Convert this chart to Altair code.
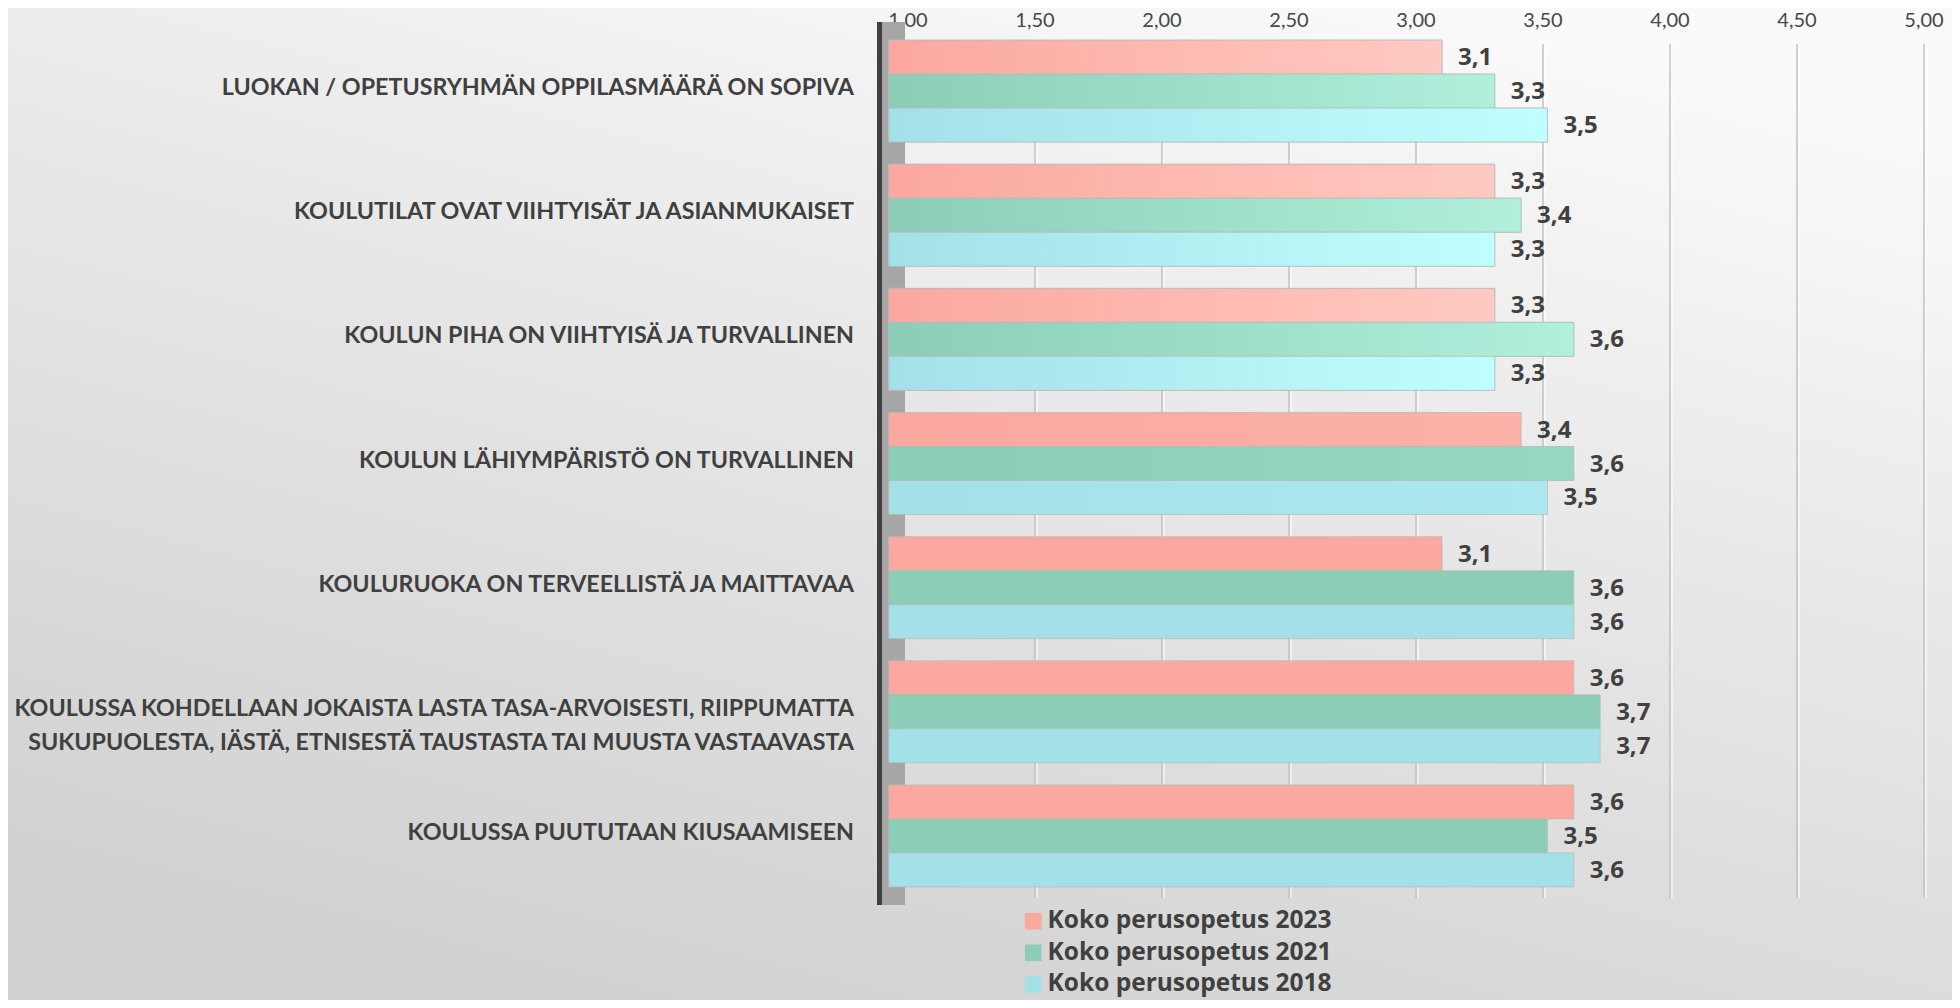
import altair as alt
import pandas as pd

categories = [
    "LUOKAN / OPETUSRYHMÄN OPPILASMÄÄRÄ ON SOPIVA",
    "KOULUTILAT OVAT VIIHTYISÄT JA ASIANMUKAISET",
    "KOULUN PIHA ON VIIHTYISÄ JA TURVALLINEN",
    "KOULUN LÄHIYMPÄRISTÖ ON TURVALLINEN",
    "KOULURUOKA ON TERVEELLISTÄ JA MAITTAVAA",
    "KOULUSSA KOHDELLAAN JOKAISTA LASTA TASA-ARVOISESTI, RIIPPUMATTA\nSUKUPUOLESTA, IÄSTÄ, ETNISESTÄ TAUSTASTA TAI MUUSTA VASTAAVASTA",
    "KOULUSSA PUUTUTAAN KIUSAAMISEEN",
]
series = ["Koko perusopetus 2023", "Koko perusopetus 2021", "Koko perusopetus 2018"]
v2023 = [3.1, 3.3, 3.3, 3.4, 3.1, 3.6, 3.6]
v2021 = [3.3, 3.4, 3.6, 3.6, 3.6, 3.7, 3.5]
v2018 = [3.5, 3.3, 3.3, 3.5, 3.6, 3.7, 3.6]
tick_values = [1.0, 1.5, 2.0, 2.5, 3.0, 3.5, 4.0, 4.5, 5.0]
colors = ["#fba89f", "#8bcdb6", "#a4e0e8"]
light_colors = ["#ffcac2", "#b0f0dc", "#c0ffff"]

FONT = "Lato"
FONT2 = "Open Sans"
TXT = "#404040"
W, H = 1016, 869
PAD = {"left": 900, "top": 21, "right": 28, "bottom": 102}

rows = []
for gi, cat in enumerate(categories):
    for s, vals in zip(series, [v2023, v2021, v2018]):
        rows.append({"cat": cat, "gi": gi, "series": s, "value": vals[gi]})
df = pd.DataFrame(rows)
ticks_df = pd.DataFrame({"t": tick_values})
one = pd.DataFrame({"a": [0]})

bar_x = alt.Scale(domain=[1.07325, 4.92903], nice=False, zero=False)
grid_x = alt.Scale(domain=[1, 5], nice=False, zero=False)
yscale = alt.Scale(paddingInner=0.179, paddingOuter=0.0895)
Y = alt.Y("cat:N", sort=categories, scale=yscale, axis=None)
YO = alt.YOffset("series:N", sort=series)

bg = alt.Chart(one).mark_rect(
    fill=alt.Gradient(
        gradient="linear", x1=0.75, y1=0, x2=0.25, y2=1,
        stops=[alt.GradientStop(color="#fafafa", offset=0),
               alt.GradientStop(color="#e6e6e6", offset=0.45),
               alt.GradientStop(color="#d0d0d0", offset=1)],
    )
).encode(x=alt.value(-PAD["left"]), x2=alt.value(W + PAD["right"]),
         y=alt.value(-PAD["top"]), y2=alt.value(H + PAD["bottom"]))

wall = alt.Chart(one).mark_rect(color="#a6a6a6").encode(
    x=alt.value(-26), x2=alt.value(-3), y=alt.value(-7), y2=alt.value(876))
wall_edge = alt.Chart(one).mark_rect(color="#404040").encode(
    x=alt.value(-31), x2=alt.value(-26), y=alt.value(-7), y2=alt.value(876))

grid = alt.Chart(ticks_df).transform_filter("datum.t > 1").mark_rule(
    color="#c2c2c2", strokeWidth=1.5).encode(
    x=alt.X("t:Q", scale=grid_x, axis=None), y=alt.value(15), y2=alt.value(869))
grid_hi = alt.Chart(ticks_df).transform_filter("datum.t > 1").mark_rule(
    color="#ffffff", strokeWidth=1.5, opacity=0.7, xOffset=2).encode(
    x=alt.X("t:Q", scale=grid_x, axis=None), y=alt.value(15), y2=alt.value(869))

tick_labels = alt.Chart(ticks_df).transform_calculate(
    lab="replace(format(datum.t, '.2f'), '.', ',')").mark_text(
    font=FONT, fontSize=20, color="#474747", baseline="top", align="center").encode(
    x=alt.X("t:Q", scale=grid_x, axis=None), y=alt.value(-18), text="lab:N")

bars = alt.Chart(df).mark_bar(stroke="#b8b8b8", strokeWidth=0.7).encode(
    x=alt.X("value:Q", scale=bar_x, axis=None),
    x2=alt.datum(1.0),
    y=Y, yOffset=YO,
    color=alt.Color("series:N", sort=series,
                    scale=alt.Scale(domain=series, range=colors),
                    legend=alt.Legend(
                        title=None, orient="none", legendX=113, legendY=880,
                        symbolType="square", symbolSize=275, symbolStrokeWidth=0,
                        labelFont=FONT2, labelFontSize=24.5, labelFontWeight="bold",
                        labelColor=TXT, labelOffset=2, rowPadding=6.5, padding=0,
                        labelLimit=600)),
)

overlays = []
for s, c0, c1 in zip(series, colors, light_colors):
    overlays.append(
        alt.Chart(df).transform_filter(alt.datum.series == s).transform_filter(
            "datum.gi < 4").transform_calculate(
            glow="datum.gi < 3 ? 1 : 0.3").mark_bar(
            stroke="#b8b8b8", strokeWidth=0.7,
            fill=alt.Gradient(gradient="linear", x1=0, y1=0, x2=1, y2=0,
                              stops=[alt.GradientStop(color=c0, offset=0),
                                     alt.GradientStop(color=c1, offset=1)])
        ).encode(
            x=alt.X("value:Q", scale=bar_x, axis=None),
            x2=alt.datum(1.0),
            y=Y, yOffset=YO,
            opacity=alt.Opacity("glow:Q", scale=None, legend=None),
        )
    )

value_labels = alt.Chart(df).transform_calculate(
    lab="replace(format(datum.value, '.1f'), '.', ',')").mark_text(
    font=FONT2, fontSize=24, fontWeight="bold", color=TXT, align="left",
    baseline="middle", dx=16, dy=1).encode(
    x=alt.X("value:Q", scale=bar_x, axis=None), y=Y, yOffset=YO, text="lab:N")

cat_df = pd.DataFrame({"cat": categories})
cat_labels = alt.Chart(cat_df).mark_text(
    font=FONT, fontSize=23.3, fontWeight="bold", color=TXT, align="right",
    baseline="middle", lineBreak="\n", lineHeight=34, dy=-3).encode(
    x=alt.value(-54), y=Y, text="cat:N")

chart = alt.layer(
    bg, grid, grid_hi, tick_labels, wall, wall_edge, bars, *overlays,
    value_labels, cat_labels
).resolve_scale(x="independent").properties(
    width=W, height=H, padding=PAD,
    autosize=alt.AutoSizeParams(type="none"),
    background="#e0e0e0",
).configure_view(stroke=None)

chart.save("out.html", embed_options={"renderer": "svg", "actions": False})
